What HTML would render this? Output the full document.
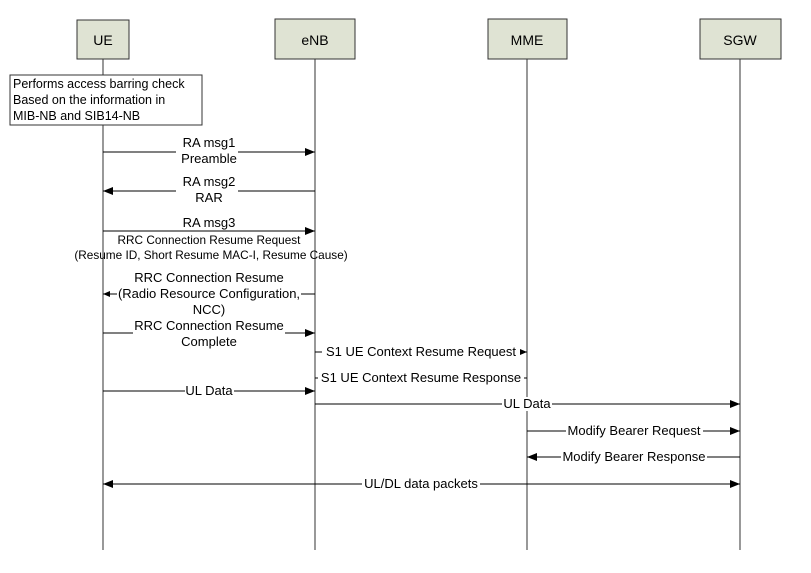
<!DOCTYPE html>
<html><head><meta charset="utf-8"><style>
html,body{margin:0;padding:0;background:#fff;}
svg{display:block;font-family:"Liberation Sans",Arial,sans-serif;}
.t{font-size:13px;fill:#000;}
.h{font-size:14px;fill:#000;}
</style></head><body>
<svg width="811" height="573" viewBox="0 0 811 573" xmlns="http://www.w3.org/2000/svg">
<defs>
<marker id="a" markerWidth="10" markerHeight="8" refX="10" refY="4" orient="auto" markerUnits="userSpaceOnUse">
<path d="M0,0 L10,4 L0,8 z" fill="#000"/></marker>
<marker id="b" markerWidth="7" markerHeight="6" refX="7" refY="3" orient="auto" markerUnits="userSpaceOnUse">
<path d="M0,0 L7,3 L0,6 z" fill="#000"/></marker>
</defs>
<g stroke="#555" stroke-width="1.2">
<line x1="103" y1="59" x2="103" y2="550"/>
<line x1="315" y1="59" x2="315" y2="550"/>
<line x1="527" y1="59" x2="527" y2="550"/>
<line x1="740" y1="59" x2="740" y2="550"/>
</g>
<g fill="#dfe3d3" stroke="#333" stroke-width="1">
<rect x="77" y="20" width="52" height="39"/>
<rect x="275" y="19" width="80" height="40"/>
<rect x="488" y="19" width="79" height="40"/>
<rect x="700" y="19" width="81" height="40"/>
</g>
<g class="h" text-anchor="middle">
<text x="103" y="45">UE</text>
<text x="315" y="45">eNB</text>
<text x="527" y="45">MME</text>
<text x="740" y="45">SGW</text>
</g>
<rect x="10" y="75" width="192" height="50" fill="#fff" stroke="#333" stroke-width="1"/>
<g font-size="12.5">
<text x="13" y="88">Performs access barring check</text>
<text x="13" y="104">Based on the information in</text>
<text x="13" y="120">MIB-NB and SIB14-NB</text>
</g>
<g stroke="#000" stroke-width="1" fill="none">
<line x1="103" y1="152" x2="315" y2="152" marker-end="url(#a)"/>
<line x1="315" y1="191" x2="103" y2="191" marker-end="url(#a)"/>
<line x1="103" y1="231" x2="315" y2="231" marker-end="url(#a)"/>
<line x1="315" y1="294" x2="103" y2="294" marker-end="url(#b)"/>
<line x1="103" y1="333" x2="315" y2="333" marker-end="url(#a)"/>
<line x1="315" y1="352" x2="527" y2="352" marker-end="url(#b)"/>
<line x1="527" y1="378" x2="315" y2="378"/>
<line x1="103" y1="391" x2="315" y2="391" marker-end="url(#a)"/>
<line x1="315" y1="404" x2="740" y2="404" marker-end="url(#a)"/>
<line x1="527" y1="431" x2="740" y2="431" marker-end="url(#a)"/>
<line x1="740" y1="457" x2="527" y2="457" marker-end="url(#a)"/>
<line x1="103" y1="484" x2="740" y2="484" marker-end="url(#a)"/>
<path d="M103,484 L113,480 L113,488 z" fill="#000" stroke="none"/>
</g>
<g fill="#fff">
<rect x="176" y="140" width="62" height="26"/>
<rect x="176" y="179" width="62" height="26"/>
<rect x="117" y="287" width="184" height="14"/>
<rect x="133" y="320" width="152" height="28"/>
<rect x="322" y="345" width="198" height="14"/>
<rect x="318" y="371" width="206" height="14"/>
<rect x="185" y="384" width="49" height="14"/>
<rect x="502" y="397" width="50" height="14"/>
<rect x="566" y="424" width="137" height="14"/>
<rect x="561" y="450" width="146" height="14"/>
<rect x="362" y="477" width="118" height="14"/>
</g>
<g class="t" text-anchor="middle">
<text x="209" y="147">RA msg1</text>
<text x="209" y="163">Preamble</text>
<text x="209" y="186">RA msg2</text>
<text x="209" y="202">RAR</text>
<text x="209" y="227">RA msg3</text>
<text x="209" y="244" font-size="11.8">RRC Connection Resume Request</text>
<text x="211" y="259" font-size="11.8">(Resume ID, Short Resume MAC-I, Resume Cause)</text>
<text x="209" y="282">RRC Connection Resume</text>
<text x="209" y="298">(Radio Resource Configuration,</text>
<text x="209" y="314">NCC)</text>
<text x="209" y="330">RRC Connection Resume</text>
<text x="209" y="346">Complete</text>
<text x="421" y="356">S1 UE Context Resume Request</text>
<text x="421" y="382">S1 UE Context Resume Response</text>
<text x="209" y="395">UL Data</text>
<text x="527" y="408">UL Data</text>
<text x="634" y="435">Modify Bearer Request</text>
<text x="634" y="461">Modify Bearer Response</text>
<text x="421" y="488">UL/DL data packets</text>
</g>
</svg>
</body></html>
